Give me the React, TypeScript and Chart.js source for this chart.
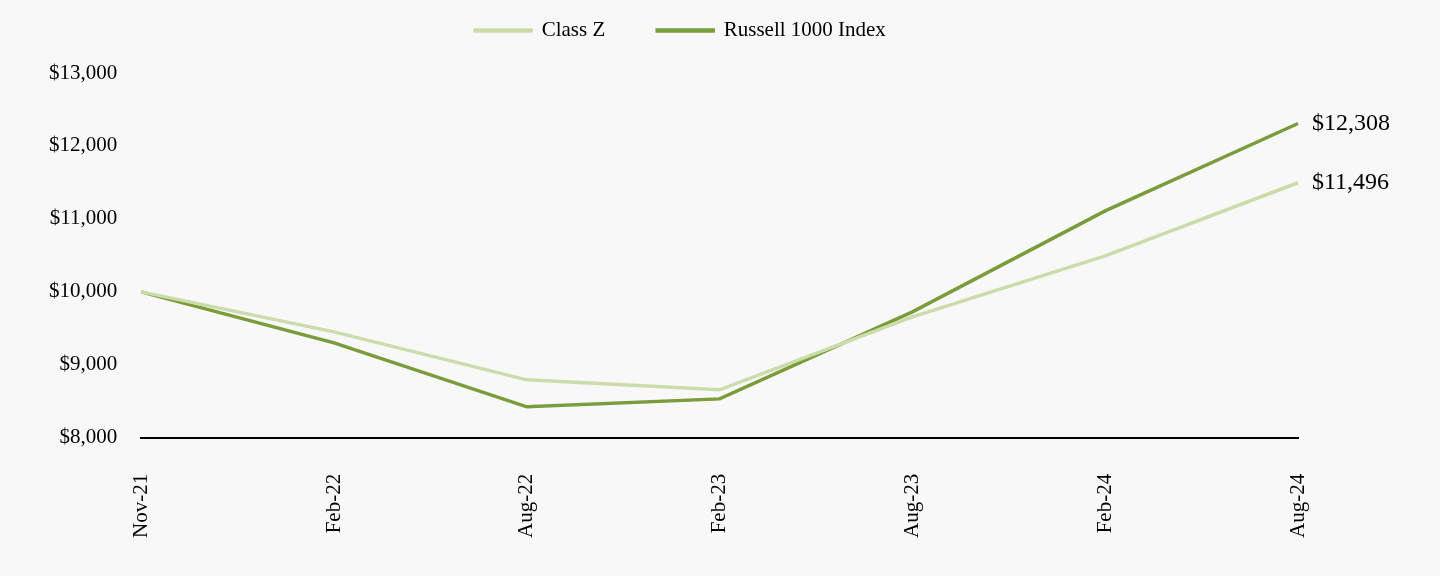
import React, { useEffect, useRef } from "react";
import { Chart, registerables } from "chart.js";

Chart.register(...registerables);

const categories = ["Nov-21", "Feb-22", "Aug-22", "Feb-23", "Aug-23", "Feb-24", "Aug-24"];
const classZ = [10000, 9452, 8795, 8658, 9658, 10493, 11496];
const russell = [10000, 9301, 8425, 8534, 9726, 11110, 12308];
const yTicks = [8000, 9000, 10000, 11000, 12000, 13000];

const LIGHT = "#cbdcab";
const DARK = "#7a9c3b";
const FONT = "'Liberation Serif', 'Times New Roman', serif";

const fmt = (v: number) => "$" + v.toLocaleString("en-US");

export default function App() {
  const ref = useRef<HTMLCanvasElement | null>(null);

  useEffect(() => {
    document.body.style.margin = "0";
    document.body.style.background = "#f8f8f8";
    if (!ref.current) return;

    const legendMargin = {
      id: "legendMargin",
      beforeInit(chart: any) {
        const orig = chart.legend.fit;
        chart.legend.fit = function () {
          orig.bind(chart.legend)();
          this.height -= 20;
        };
      },
      afterLayout(chart: any) {
        const dx = 19;
        chart.legend.left += dx;
        chart.legend.right += dx;
        chart.legend.top -= 42;
      },
    };

    const endLabels = {
      id: "endLabels",
      afterDatasetsDraw(chart: any) {
        const ctx = chart.ctx;
        ctx.save();
        ctx.font = `24px ${FONT}`;
        ctx.fillStyle = "#000";
        ctx.textBaseline = "middle";
        ctx.textAlign = "left";
        chart.data.datasets.forEach((ds: any, i: number) => {
          const meta = chart.getDatasetMeta(i);
          const pt = meta.data[meta.data.length - 1];
          const v = ds.data[ds.data.length - 1];
          ctx.fillText(fmt(v), pt.x + 14, pt.y);
        });
        ctx.restore();
      },
    };

    const chart = new Chart(ref.current, {
      type: "line",
      data: {
        labels: categories,
        datasets: [
          {
            label: "Class Z",
            data: classZ,
            borderColor: LIGHT,
            backgroundColor: LIGHT,
            borderWidth: 3.5,
            pointRadius: 0,
            tension: 0,
          },
          {
            label: "Russell 1000 Index",
            data: russell,
            borderColor: DARK,
            backgroundColor: DARK,
            borderWidth: 3.5,
            pointRadius: 0,
            tension: 0,
          },
        ],
      },
      options: {
        animation: false,
        responsive: true,
        maintainAspectRatio: false,
        layout: { padding: { left: 25, right: 142, top: 10, bottom: 2 } },
        plugins: {
          legend: {
            position: "top",
            labels: {
              boxWidth: 56,
              boxHeight: 1,
              padding: 52,
              color: "#000",
              font: { family: FONT, size: 21 },
            },
          },
          tooltip: { enabled: false },
        },
        scales: {
          x: {
            grid: { display: false, drawTicks: false },
            border: { display: true, color: "#000", width: 2 },
            ticks: {
              color: "#000",
              font: { family: FONT, size: 21 },
              minRotation: 90,
              maxRotation: 90,
              padding: 36,
            },
          },
          y: {
            min: 8000,
            max: 13000,
            afterBuildTicks(scale: any) {
              scale.ticks = yTicks.map((v) => ({ value: v }));
            },
            grid: { display: false, drawTicks: false },
            border: { display: false },
            ticks: {
              color: "#000",
              font: { family: FONT, size: 21 },
              padding: 24,
              callback: (v: any) => fmt(Number(v)),
            },
          },
        },
      },
      plugins: [legendMargin, endLabels],
    });
    return () => chart.destroy();
  }, []);

  return (
    <div style={{ width: 1440, height: 576, position: "relative", background: "#f8f8f8" }}>
      <canvas ref={ref} />
    </div>
  );
}
